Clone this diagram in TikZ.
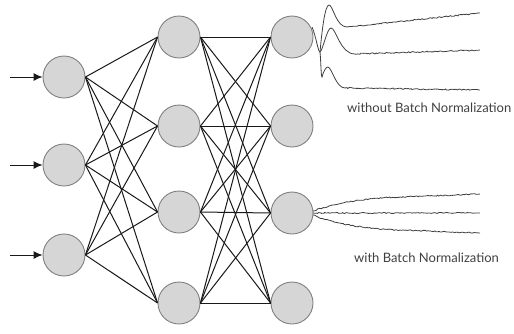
\documentclass[tikz,border=0pt]{standalone}
\usepackage{fontspec}
\setmainfont{Lato}
\usetikzlibrary{arrows.meta,decorations.pathmorphing}

\begin{document}
\begin{tikzpicture}[x=1pt,y=-1pt,
  neuron/.style={circle, draw=black!50, fill=black!16, line width=0.9pt, minimum size=42pt, inner sep=0pt},
  link/.style={line width=1pt, black!90},
  trace/.style={line width=0.8pt, black!75},
  noisy/.style={trace, decorate, decoration={random steps, segment length=1.5pt, amplitude=0.6pt}},
  bnnote/.style={text=black!75, font=\fontsize{13}{15}\selectfont, anchor=west, inner sep=0pt}]
\useasboundingbox (0,0) rectangle (514,333);
\pgfmathsetseed{42}
% input layer
\foreach \n/\y in {1/77,2/165,3/255}{
  \node[neuron] (i\n) at (64,\y) {};
  \coordinate (s\n) at (10,\y);
  \draw[link,-{Latex[length=9pt,width=8pt]}] (s\n) -- (i\n);
}
% hidden layers
\foreach \n/\y in {1/37,2/126,3/212,4/303}
  \node[neuron] (h\n) at (179,\y) {};
\foreach \n/\y in {1/37,2/126,3/213,4/303}
  \node[neuron] (o\n) at (292,\y) {};
% fully connected
\foreach \a in {1,2,3}
  \foreach \b in {1,...,4}
    \draw[link] (i\a.east) -- (h\b.west);
\foreach \a in {1,...,4}
  \foreach \b in {1,...,4}
    \draw[link] (h\a.east) -- (o\b.west);
% activations without batch norm
\draw[trace] (312,27) .. controls (316,36) and (318,52) .. (320,52) .. controls (323,50) and (327,28) .. (331,28) .. controls (336,28) and (340,54) .. (355,54);
\draw[noisy] (355,54) -- (480,50);
\draw[trace] (320,52) .. controls (322,30) and (325,5) .. (329,5) .. controls (333,5) and (336,27) .. (347,27);
\draw[noisy] (347,27) -- (480,13);
\draw[trace] (320,52) .. controls (321,62) and (321,77) .. (322,77) .. controls (324,70) and (326,67) .. (328,67) .. controls (332,68) and (336,88) .. (345,88);
\draw[noisy] (345,88) -- (480,90);
\node[bnnote] (woBN) at (347,108) {without Batch Normalization};
% activations with batch norm
\draw[noisy] (313,211) .. controls (330,205) and (360,198) .. (400,197) -- (480,194);
\draw[noisy] (313,213) -- (480,213);
\draw[noisy] (313,215) .. controls (330,222) and (360,229) .. (400,230) -- (480,233);
\node[bnnote] (wBN) at (354,258) {with Batch Normalization};
\end{tikzpicture}
\end{document}
